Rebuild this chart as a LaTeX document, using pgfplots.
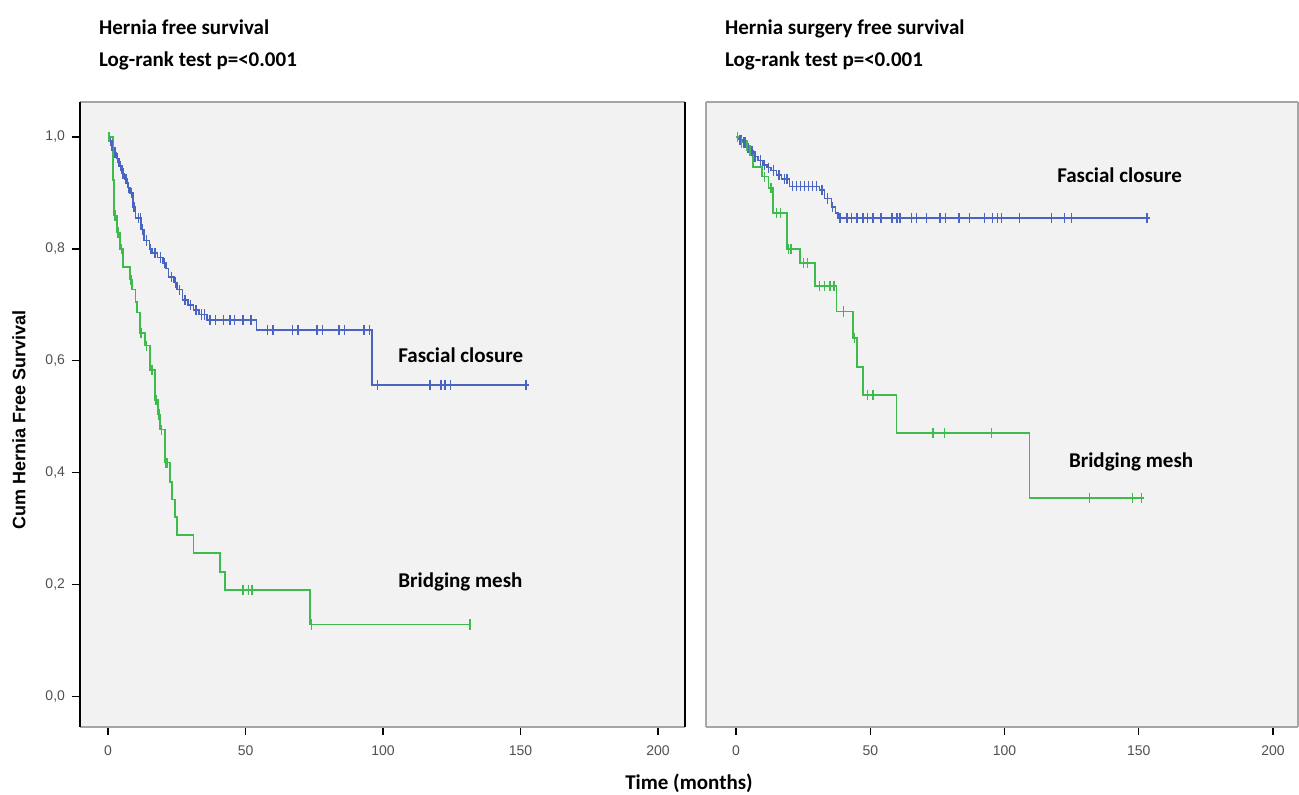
\documentclass[border=0pt]{standalone}
\usepackage{fontspec}
\setmainfont{Carlito}
\newfontfamily\arialfont{Liberation Sans}
\usepackage{pgfplots}
\pgfplotsset{compat=1.18}
\definecolor{kmblue}{HTML}{4A64C2}
\definecolor{kmgreen}{HTML}{3DBB4C}
\definecolor{panelbg}{HTML}{F2F2F2}
\definecolor{ticktext}{HTML}{505050}

% step values (time, survival after event)
\pgfplotstableread{
t s
0 1.0
1 0.985
2 0.972
3 0.962
4 0.948
5 0.935
6 0.925
7 0.91
8 0.90
9 0.875
10 0.855
12 0.835
13 0.815
15 0.80
16 0.793
18 0.785
20 0.775
21 0.765
22 0.75
24 0.74
25 0.727
27 0.709
29 0.70
31 0.691
33 0.683
36 0.673
54 0.655
96 0.557
153 0.557
}\hfblue
\pgfplotstableread{
t s
0.4 1.0
1.5 0.985
2.5 0.972
3.5 0.962
4.5 0.948
5.5 0.935
6.5 0.925
7.5 0.91
8.5 0.90
9.5 0.875
11 0.855
11.8 0.855
12.5 0.835
14 0.815
15.5 0.80
17 0.793
19 0.785
20.5 0.775
23 0.75
24.5 0.74
26 0.727
28 0.709
30 0.70
32 0.691
34 0.683
35 0.683
37 0.673
39 0.673
42 0.673
44.4 0.673
46 0.673
49 0.673
52 0.673
58 0.655
60 0.655
67 0.655
69 0.655
76 0.655
78 0.655
84 0.655
86 0.655
93 0.655
95 0.655
98 0.557
117 0.557
121 0.557
122.5 0.557
124.5 0.557
152 0.557
}\hfbluec
\pgfplotstableread{
t s
0 1.0
1.8 0.923
2.2 0.86
3.3 0.829
4.4 0.80
5.5 0.768
8 0.745
8.7 0.727
10 0.705
10.5 0.686
11.6 0.65
13.5 0.627
15.3 0.584
17 0.53
18.2 0.504
18.9 0.477
20.7 0.418
22.5 0.384
23.2 0.352
24.4 0.321
25 0.289
31 0.257
40.7 0.223
42.5 0.191
73.5 0.129
131.6 0.129
}\hfgreen
\pgfplotstableread{
t s
0.4 1.0
2 0.923
2.5 0.86
3.6 0.829
4.8 0.80
8.3 0.745
12 0.65
14 0.627
16 0.584
17.5 0.53
18.5 0.504
19.5 0.477
21 0.418
21.6 0.418
49 0.191
51 0.191
52.4 0.191
74 0.129
131.6 0.129
}\hfgreenc
\pgfplotstableread{
t s
0 1.0
1 0.995
2.6 0.99
4 0.98
5.2 0.975
6.5 0.965
8.2 0.958
10 0.95
11.5 0.945
13 0.94
15 0.932
17 0.925
20 0.912
31 0.905
33 0.89
35.6 0.875
37 0.864
38 0.855
154 0.855
}\hsblue
\pgfplotstableread{
t s
0.5 1.0
1.5 0.995
2 0.995
3 0.99
3.5 0.99
4.5 0.98
6 0.975
7 0.965
9 0.958
10.5 0.95
12 0.945
14 0.94
16 0.932
18 0.925
19 0.925
21 0.912
22.5 0.912
24 0.912
25.5 0.912
27 0.912
28.5 0.912
30 0.912
32 0.905
34 0.89
36 0.875
38.7 0.855
41.3 0.855
43 0.855
45 0.855
47.2 0.855
49 0.855
51 0.855
54 0.855
58 0.855
60 0.855
61 0.855
65.4 0.855
67.3 0.855
71 0.855
76 0.855
78 0.855
83 0.855
87 0.855
92.6 0.855
95.5 0.855
97.4 0.855
98.9 0.855
105.6 0.855
117.5 0.855
122.3 0.855
125 0.855
153 0.855
}\hsbluec
\pgfplotstableread{
t s
0 1.0
1.5 0.99
3 0.985
5.2 0.968
6.3 0.946
9.7 0.929
12 0.909
13.8 0.864
19 0.80
23.8 0.775
29.4 0.734
37.5 0.688
43.5 0.641
45 0.589
47.2 0.539
59.8 0.471
109.3 0.355
152 0.355
}\hsgreen
\pgfplotstableread{
t s
0.5 1.0
2 0.99
4 0.985
10.5 0.929
13 0.909
15 0.864
16.5 0.864
19.5 0.80
20.5 0.80
25 0.775
26.5 0.775
31 0.734
33 0.734
35 0.734
36.5 0.734
40 0.688
44 0.641
49 0.539
51 0.539
73.3 0.471
77.7 0.471
95.2 0.471
131.6 0.355
147.6 0.355
151 0.355
}\hsgreenc

\pgfplotsset{
  kmpanel/.style={
    scale only axis, anchor=south west,
    height=312.5pt,
    ymin=-0.054, ymax=1.0625,
    axis background/.style={fill=panelbg},
    tick align=outside,
    xtick pos=lower, ytick pos=left,
    major tick length=4pt,
    tick style={black, line width=0.6pt},
    xtick={0,50,100,150,200},
    ytick={0,0.2,0.4,0.6,0.8,1.0},
    yticklabel style={/pgf/number format/.cd, fixed, fixed zerofill, precision=1, use comma},
    ticklabel style={font=\arialfont\fontsize{7}{8}\selectfont, text=ticktext},
    /pgf/number format/assume math mode=true,
    xticklabel style={yshift=-2pt},
    separate axis lines,
    x axis line style={draw=gray!70, line width=0.6pt},
    y axis line style={draw=black, line width=0.8pt},
  },
  kmline/.style={const plot, line width=0.7pt, mark=none},
  kmcens/.style={only marks, mark=|, mark size=2.6pt, line width=0.7pt},
}

\begin{document}
\begin{tikzpicture}
\useasboundingbox (0,0) rectangle (649.5pt,397.5pt);

\node[anchor=base west, font=\bfseries\fontsize{10.5}{12}\selectfont] at (46pt,380pt) {Hernia free survival};
\node[anchor=base west, font=\bfseries\fontsize{10.5}{12}\selectfont] at (46pt,364pt) {Log-rank test p=<0.001};
\node[anchor=base west, font=\bfseries\fontsize{10.5}{12}\selectfont] at (359pt,380pt) {Hernia surgery free survival};
\node[anchor=base west, font=\bfseries\fontsize{10.5}{12}\selectfont] at (359pt,364pt) {Log-rank test p=<0.001};

\begin{axis}[kmpanel, at={(40pt,34pt)}, width=302.5pt, xmin=-10.2, xmax=209.8]
\addplot[kmline, kmblue] table[x=t, y=s] {\hfblue};
\addplot[kmcens, kmblue] table[x=t, y=s] {\hfbluec};
\addplot[kmline, kmgreen] table[x=t, y=s] {\hfgreen};
\addplot[kmcens, kmgreen] table[x=t, y=s] {\hfgreenc};
\node[anchor=base west, font=\bfseries\fontsize{10.5}{12}\selectfont] at (axis cs:103,0.598) {Fascial closure};
\node[anchor=base west, font=\bfseries\fontsize{10.5}{12}\selectfont] at (axis cs:103,0.195) {Bridging mesh};
\end{axis}

\begin{axis}[kmpanel, at={(353pt,34pt)}, width=296pt, xmin=-11.2, xmax=209.3,
  y axis line style={draw=gray!70, line width=0.6pt}, ytick=\empty]
\addplot[kmline, kmblue] table[x=t, y=s] {\hsblue};
\addplot[kmcens, kmblue] table[x=t, y=s] {\hsbluec};
\addplot[kmline, kmgreen] table[x=t, y=s] {\hsgreen};
\addplot[kmcens, kmgreen] table[x=t, y=s] {\hsgreenc};
\node[anchor=base west, font=\bfseries\fontsize{10.5}{12}\selectfont] at (axis cs:117,0.918) {Fascial closure};
\node[anchor=base west, font=\bfseries\fontsize{10.5}{12}\selectfont] at (axis cs:121.4,0.409) {Bridging mesh};
\end{axis}

\node[rotate=90, font=\arialfont\bfseries\fontsize{9}{10}\selectfont] at (9.5pt,187.5pt) {Cum Hernia Free Survival};
\node[anchor=base, font=\bfseries\fontsize{10.5}{12}\selectfont] at (344.5pt,2.5pt) {Time (months)};
\end{tikzpicture}
\end{document}
